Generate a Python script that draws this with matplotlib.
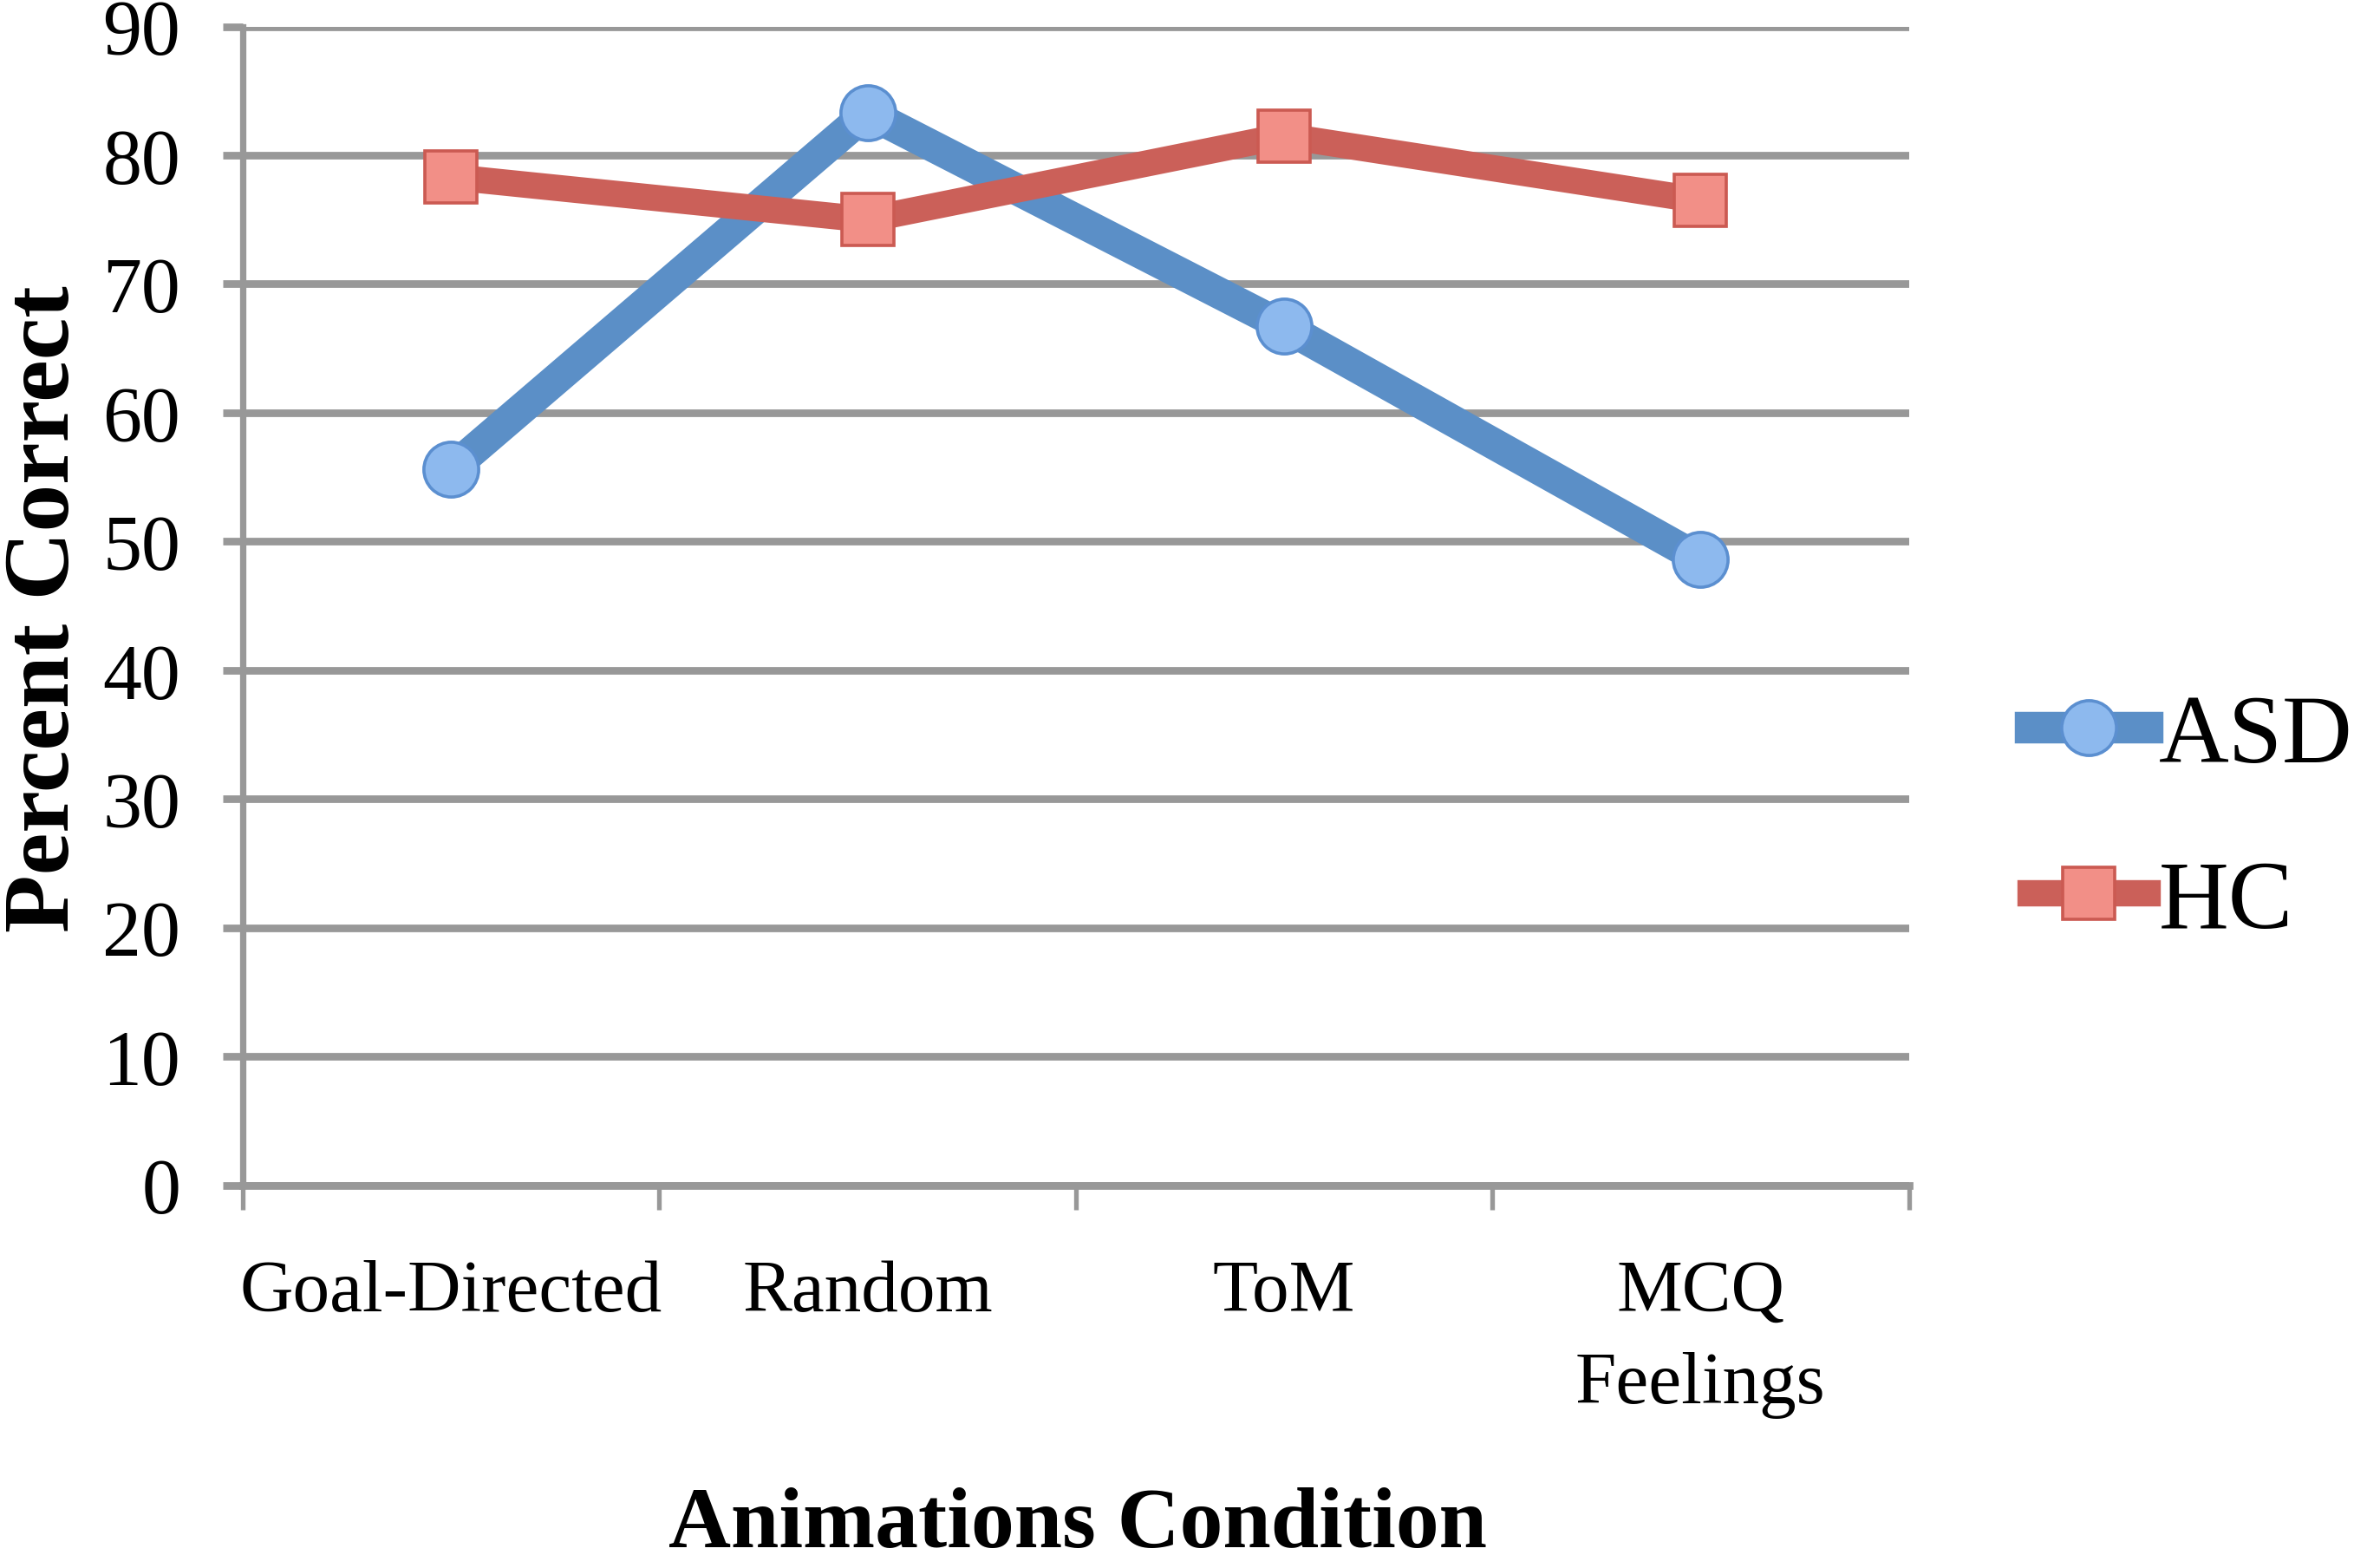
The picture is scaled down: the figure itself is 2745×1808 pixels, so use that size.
import matplotlib
matplotlib.use('Agg')
from matplotlib import pyplot
from matplotlib.lines import Line2D

conditions = ['Goal-Directed', 'Random', 'ToM', 'MCQ\nFeelings']
asd = [55.6, 83.3, 66.7, 48.6]
hc = [78.3, 75.0, 81.5, 76.5]
yticks = [0, 10, 20, 30, 40, 50, 60, 70, 80, 90]

grid_gray = '#989898'
blue_line, blue_fill, blue_edge = '#5B8FC7', '#8DB9EE', '#5B8FD0'
red_line, red_fill, red_edge = '#CB6059', '#F28F87', '#CB5A52'

pyplot.rc('font', family=['Liberation Serif', 'DejaVu Serif'])
fig = pyplot.figure(figsize=(15.686, 10.337), dpi=175)
ax = fig.add_axes([0.102, 0.244, 0.700, 0.7386])

x = range(len(conditions))
ax.plot(x, asd, color=blue_line, lw=15, marker='o', ms=26,
        mfc=blue_fill, mec=blue_edge, mew=1.5, zorder=3, label='ASD')
ax.plot(x, hc, color=red_line, lw=12.5, marker='s', ms=25,
        mfc=red_fill, mec=red_edge, mew=1.5, zorder=3, label='HC')

ax.set_xlim(-0.5, 3.5)
ax.set_ylim(0, 90)
ax.set_yticks(yticks)
ax.yaxis.grid(True, color=grid_gray, lw=3.6)
ax.set_axisbelow(True)
for side in ['top', 'right']:
    ax.spines[side].set_visible(False)
for side in ['left', 'bottom']:
    ax.spines[side].set_color(grid_gray)
    ax.spines[side].set_linewidth(3.0)
ax.spines['bottom'].set_linewidth(3.6)

ax.tick_params(axis='y', length=9.5, width=3.6, color=grid_gray,
               pad=20, labelsize=37)
ax.set_xticks([-0.5, 0.5, 1.5, 2.5, 3.5])
ax.set_xticklabels([])
ax.tick_params(axis='x', which='major', length=11.5, width=2.2,
               color=grid_gray)
ax.set_xticks(list(x), minor=True)
ax.set_xticklabels(conditions, minor=True)
ax.tick_params(axis='x', which='minor', length=0, pad=35, labelsize=35)
for lbl in ax.get_xticklabels(minor=True):
    lbl.set_linespacing(1.5)

fig.text(2 / 1568, 1 - 401 / 1033, 'Percent Correct', rotation=90,
         ha='left', va='center', fontsize=45, fontweight='bold')
fig.text(710 / 1568, 1 - 1005 / 1033, 'Animations Condition',
         ha='center', va='center', fontsize=41, fontweight='bold')

handles = [
    Line2D([], [], color=blue_line, lw=15, marker='o', ms=26,
           mfc=blue_fill, mec=blue_edge, mew=1.5),
    Line2D([], [], color=red_line, lw=12.5, marker='s', ms=25,
           mfc=red_fill, mec=red_edge, mew=1.5),
]
fig.legend(handles, ['ASD', 'HC'], loc='center left',
           bbox_to_anchor=(1338 / 1568, 1 - 541 / 1033), frameon=False,
           fontsize=46, handlelength=1.2, handletextpad=0.12,
           labelspacing=0.8, borderpad=0, borderaxespad=0)

fig.savefig('out.png', dpi=175)
